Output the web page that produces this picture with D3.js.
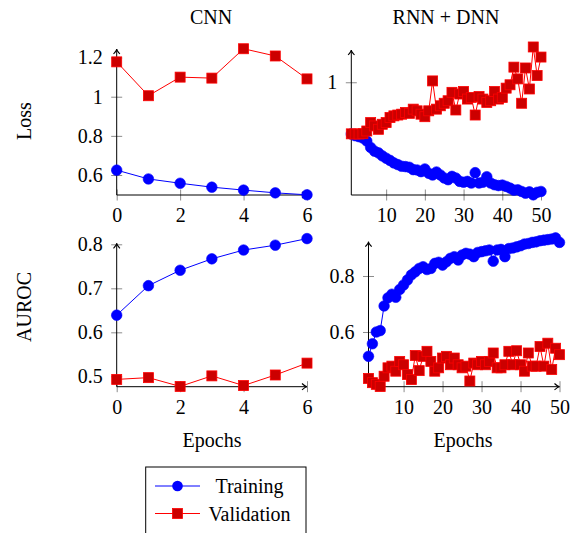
<!DOCTYPE html>
<html>
<head>
<meta charset="utf-8">
<script src="https://cdn.jsdelivr.net/npm/d3@7"></script>
<style>
  body { margin: 0; background: #fff; }
</style>
</head>
<body>
<div id="chart"></div>
<script>
// epochs
const cnnEpochs = [0, 1, 2, 3, 4, 5, 6];
const rnnEpochs = d3.range(1, 51);

// CNN values
const cnnLossTrain = [0.625, 0.580, 0.558, 0.538, 0.523, 0.509, 0.499];
const cnnLossVal = [1.178, 1.005, 1.100, 1.095, 1.245, 1.208, 1.091];
const cnnAucTrain = [0.639, 0.706, 0.741, 0.767, 0.787, 0.798, 0.813];
const cnnAucVal = [0.493, 0.497, 0.477, 0.501, 0.479, 0.503, 0.530];

// RNN + DNN values
const rnnLossTrain = [0.692, 0.682, 0.676, 0.668, 0.650, 0.612, 0.590, 0.580, 0.562, 0.548,
  0.535, 0.520, 0.510, 0.500, 0.498, 0.494, 0.480, 0.478, 0.468, 0.484,
  0.458, 0.448, 0.466, 0.448, 0.430, 0.420, 0.440, 0.430, 0.410, 0.405,
  0.410, 0.400, 0.462, 0.400, 0.405, 0.438, 0.400, 0.390, 0.385, 0.388,
  0.380, 0.370, 0.358, 0.360, 0.350, 0.340, 0.348, 0.330, 0.345, 0.350];
const rnnLossVal = [0.693, 0.692, 0.692, 0.694, 0.710, 0.760, 0.740, 0.720, 0.750, 0.760,
  0.790, 0.800, 0.805, 0.810, 0.820, 0.815, 0.840, 0.830, 0.810, 0.795,
  0.830, 1.008, 0.840, 0.860, 0.875, 0.890, 0.940, 0.835, 0.930, 0.945,
  0.900, 0.910, 0.805, 0.915, 0.900, 0.880, 0.890, 0.945, 0.900, 0.910,
  0.965, 0.985, 1.090, 1.020, 0.875, 1.085, 0.960, 1.210, 1.040, 1.150];
const rnnAucTrain = [0.513, 0.558, 0.600, 0.605, 0.693, 0.722, 0.735, 0.724, 0.752, 0.768,
  0.786, 0.804, 0.815, 0.827, 0.833, 0.823, 0.827, 0.845, 0.849, 0.839,
  0.851, 0.863, 0.869, 0.857, 0.875, 0.881, 0.878, 0.869, 0.884, 0.887,
  0.890, 0.893, 0.853, 0.893, 0.895, 0.869, 0.898, 0.900, 0.904, 0.908,
  0.914, 0.916, 0.920, 0.922, 0.926, 0.928, 0.930, 0.932, 0.936, 0.920];
const rnnAucVal = [0.434, 0.419, 0.413, 0.405, 0.442, 0.472, 0.478, 0.460, 0.495, 0.483,
  0.448, 0.430, 0.516, 0.462, 0.513, 0.531, 0.495, 0.460, 0.472, 0.507,
  0.513, 0.483, 0.507, 0.483, 0.472, 0.478, 0.425, 0.489, 0.483, 0.495,
  0.483, 0.495, 0.525, 0.472, 0.472, 0.483, 0.531, 0.483, 0.533, 0.483,
  0.460, 0.525, 0.478, 0.478, 0.548, 0.478, 0.560, 0.466, 0.542, 0.519];

// tick labels
const cnnXTicks = [0, 2, 4, 6];
const rnnXTicks = [10, 20, 30, 40, 50];
const cnnLossTicks = [0.6, 0.8, 1, 1.2];
const rnnLossTicks = [1];
const cnnAucTicks = [0.5, 0.6, 0.7, 0.8];
const rnnAucTicks = [0.6, 0.8];

const columnTitles = ["CNN", "RNN + DNN"];
const rowLabels = ["Loss", "AUROC"];
const seriesNames = ["Training", "Validation"];

const blue = "#0000ff";
const red = "#ff0000";
const redFill = "#cc0000";
const serif = "'Liberation Serif', 'Times New Roman', 'DejaVu Serif', serif";

const svg = d3.select("#chart").append("svg")
    .attr("width", 577)
    .attr("height", 533)
    .style("font-family", serif);

svg.append("rect").attr("width", 577).attr("height", 533).attr("fill", "#fff");

// panel frames (pixels) and domains
const panels = [
    { left: 116.7, right: 307, bottom: 195, top: 49, xd: [0, 6], yd: [0.498, 1.2437],
      xs: cnnEpochs, train: cnnLossTrain, val: cnnLossVal, xt: cnnXTicks, yt: cnnLossTicks },
    { left: 351.3, right: 541, bottom: 195, top: 50, xd: [1, 50], yd: [0.329, 1.192],
      xs: rnnEpochs, train: rnnLossTrain, val: rnnLossVal, xt: rnnXTicks, yt: rnnLossTicks },
    { left: 116.7, right: 307, bottom: 386.7, top: 243.3, xd: [0, 6], yd: [0.4764, 0.8023],
      xs: cnnEpochs, train: cnnAucTrain, val: cnnAucVal, xt: cnnXTicks, yt: cnnAucTicks },
    { left: 368.5, right: 559.5, bottom: 386.7, top: 241.7, xd: [1, 50], yd: [0.4046, 0.9225],
      xs: rnnEpochs, train: rnnAucTrain, val: rnnAucVal, xt: rnnXTicks, yt: rnnAucTicks }
];

function arrowHead(g, x, y, dir) {
    // small open "->" tip
    const p = dir === "up"
        ? `M${x - 3.2},${y + 5} Q${x},${y + 1.5} ${x},${y} Q${x},${y + 1.5} ${x + 3.2},${y + 5}`
        : `M${x - 5},${y - 3.2} Q${x - 1.5},${y} ${x},${y} Q${x - 1.5},${y} ${x - 5},${y + 3.2}`;
    g.append("path").attr("d", p).attr("fill", "none").attr("stroke", "#000").attr("stroke-width", 1.1);
}

function label(x, y, txt, rotate) {
    const t = svg.append("text")
        .attr("text-anchor", "middle")
        .style("font-family", serif)
        .style("font-size", "20px")
        .text(txt);
    if (rotate) t.attr("transform", `translate(${x},${y}) rotate(-90)`);
    else t.attr("x", x).attr("y", y);
    return t;
}

panels.forEach(p => {
    const x = d3.scaleLinear().domain(p.xd).range([p.left, p.right]);
    const y = d3.scaleLinear().domain(p.yd).range([p.bottom, p.top]);
    const g = svg.append("g");

    // axes with ticks crossing the line
    const ya = g.append("g")
        .attr("transform", `translate(${p.left},0)`)
        .call(d3.axisLeft(y).tickValues(p.yt).tickSize(0).tickPadding(14).tickFormat(d => String(d)));
    ya.select(".domain").remove();
    ya.selectAll(".tick line").attr("x1", -5.5).attr("x2", 5.5).attr("stroke", "#8c8c8c");
    ya.selectAll(".tick text").style("font-size", "20px").style("font-family", serif);

    const xa = g.append("g")
        .attr("transform", `translate(0,${p.bottom})`)
        .call(d3.axisBottom(x).tickValues(p.xt).tickSize(0).tickPadding(13).tickFormat(d => String(d)));
    xa.select(".domain").remove();
    xa.selectAll(".tick line").attr("y1", -5.5).attr("y2", 5.5).attr("stroke", "#8c8c8c");
    xa.selectAll(".tick text").style("font-size", "20px").style("font-family", serif);

    g.append("line").attr("x1", p.left).attr("x2", p.left).attr("y1", p.bottom).attr("y2", p.top)
        .attr("stroke", "#000").attr("stroke-width", 1);
    g.append("line").attr("x1", p.left).attr("x2", p.right).attr("y1", p.bottom).attr("y2", p.bottom)
        .attr("stroke", "#000").attr("stroke-width", 1);
    arrowHead(g, p.left, p.top, "up");
    arrowHead(g, p.right, p.bottom, "right");

    const line = d3.line().x(d => x(d[0])).y(d => y(d[1]));
    const trainPts = p.xs.map((e, i) => [e, p.train[i]]);
    const valPts = p.xs.map((e, i) => [e, p.val[i]]);

    g.append("path").datum(trainPts).attr("d", line)
        .attr("fill", "none").attr("stroke", blue).attr("stroke-width", 1);
    g.selectAll("circle.tr").data(trainPts).enter().append("circle")
        .attr("cx", d => x(d[0])).attr("cy", d => y(d[1])).attr("r", 5.3)
        .attr("fill", blue).attr("stroke", blue).attr("stroke-width", 0.6);

    g.append("path").datum(valPts).attr("d", line)
        .attr("fill", "none").attr("stroke", red).attr("stroke-width", 1);
    g.selectAll("rect.va").data(valPts).enter().append("rect")
        .attr("x", d => x(d[0]) - 5).attr("y", d => y(d[1]) - 5)
        .attr("width", 10).attr("height", 10)
        .attr("fill", redFill).attr("stroke", red).attr("stroke-width", 0.8);
});

// column titles
label(211, 24, columnTitles[0]);
label(446, 24, columnTitles[1]);

// row labels
label(31, 121, rowLabels[0], true);
label(31, 307, rowLabels[1], true);

// x labels
label(212, 447, "Epochs");
label(463, 447, "Epochs");

// legend
const lg = svg.append("g");
lg.append("rect").attr("x", 145.7).attr("y", 467).attr("width", 160.3).attr("height", 90)
    .attr("fill", "#fff").attr("stroke", "#000").attr("stroke-width", 1);
const legendRows = [
    { name: seriesNames[0], color: blue, y: 486 },
    { name: seriesNames[1], color: red, y: 513.5 }
];
legendRows.forEach((r, i) => {
    lg.append("line").attr("x1", 155).attr("x2", 200).attr("y1", r.y).attr("y2", r.y)
        .attr("stroke", r.color).attr("stroke-width", 1);
    if (i === 0) {
        lg.append("circle").attr("cx", 177.5).attr("cy", r.y).attr("r", 5.3).attr("fill", blue);
    } else {
        lg.append("rect").attr("x", 172.5).attr("y", r.y - 5).attr("width", 10).attr("height", 10)
            .attr("fill", redFill).attr("stroke", red).attr("stroke-width", 0.8);
    }
    lg.append("text").attr("x", 249.5).attr("y", r.y + 7).attr("text-anchor", "middle")
        .style("font-family", serif).style("font-size", "20px").text(r.name);
});
</script>
</body>
</html>
